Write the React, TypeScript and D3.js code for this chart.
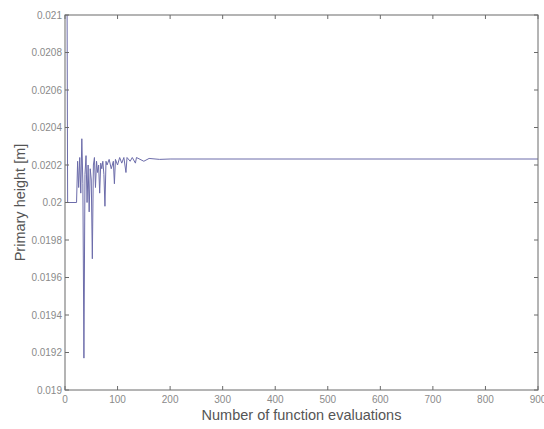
import React from "react";
import * as d3 from "d3";

const evals = [4, 5, 22, 24, 26, 28, 30, 32, 34, 36, 38, 40, 42, 44, 46, 48, 50, 52, 54, 56, 58, 60, 62, 64, 66, 68, 70, 72, 74, 76, 78, 80, 84, 88, 92, 94, 96, 100, 104, 108, 112, 116, 118, 124, 128, 134, 136, 150, 160, 180, 200, 900];
const heights = [0.021, 0.0200, 0.0200, 0.02022, 0.02008, 0.02024, 0.02005, 0.02034, 0.02010, 0.01917, 0.02015, 0.02025, 0.02000, 0.02020, 0.01995, 0.02018, 0.02012, 0.01970, 0.02020, 0.02024, 0.02008, 0.02022, 0.02016, 0.02020, 0.02005, 0.02021, 0.02018, 0.02022, 0.02015, 0.01998, 0.02022, 0.02020, 0.02023, 0.02018, 0.02022, 0.02010, 0.02023, 0.02020, 0.02024, 0.02021, 0.02024, 0.02016, 0.02024, 0.02022, 0.02024, 0.02021, 0.02024, 0.02022, 0.020235, 0.02023, 0.020232, 0.020232];
const xTicks = [0, 100, 200, 300, 400, 500, 600, 700, 800, 900];
const yTicks = [0.019, 0.0192, 0.0194, 0.0196, 0.0198, 0.02, 0.0202, 0.0204, 0.0206, 0.0208, 0.021];

export default function App() {
  const W = 544, H = 429;
  const L = 65, R = 538, T = 15, B = 390;
  const x = d3.scaleLinear().domain([0, 900]).range([L, R]);
  const y = d3.scaleLinear().domain([0.019, 0.021]).range([B, T]);
  const pts = evals.map((e, i) => [e, heights[i]] as [number, number]);
  const line = d3.line<[number, number]>().x(d => x(d[0])).y(d => y(d[1]));
  const fmt = (v: number) => String(+v.toFixed(4));
  const axisColor = "#6a6a6a";
  const textColor = "#8a8a8a";
  return (
    <svg width={W} height={H} style={{ position: "absolute", left: 0, top: 0, background: "#fff" }} fontFamily="'Liberation Sans', Arial, sans-serif">
      <rect x={0} y={0} width={W} height={H} fill="#fff" />
      <path d={line(pts) ?? ""} fill="none" stroke="#6c6caa" strokeWidth={1} />
      <rect x={L} y={T} width={R - L} height={B - T} fill="none" stroke={axisColor} strokeWidth={1} />
      {xTicks.map(t => (
        <g key={"x" + t}>
          <line x1={x(t)} x2={x(t)} y1={B} y2={B - 4} stroke={axisColor} />
          <line x1={x(t)} x2={x(t)} y1={T} y2={T + 4} stroke={axisColor} />
          <text x={x(t)} y={B + 13} fontSize={10} fill={textColor} textAnchor="middle">{t}</text>
        </g>
      ))}
      {yTicks.map(t => (
        <g key={"y" + t}>
          <line x1={L} x2={L + 4} y1={y(t)} y2={y(t)} stroke={axisColor} />
          <line x1={R} x2={R - 4} y1={y(t)} y2={y(t)} stroke={axisColor} />
          <text x={L - 3} y={y(t) + 3.5} fontSize={10} fill={textColor} textAnchor="end">{fmt(t)}</text>
        </g>
      ))}
      <text x={(L + R) / 2} y={420} fontSize={14.5} fill="#555" textAnchor="middle">Number of function evaluations</text>
      <text transform={`translate(25, ${(T + B) / 2}) rotate(-90)`} fontSize={14.5} fill="#555" textAnchor="middle">Primary height [m]</text>
    </svg>
  );
}
